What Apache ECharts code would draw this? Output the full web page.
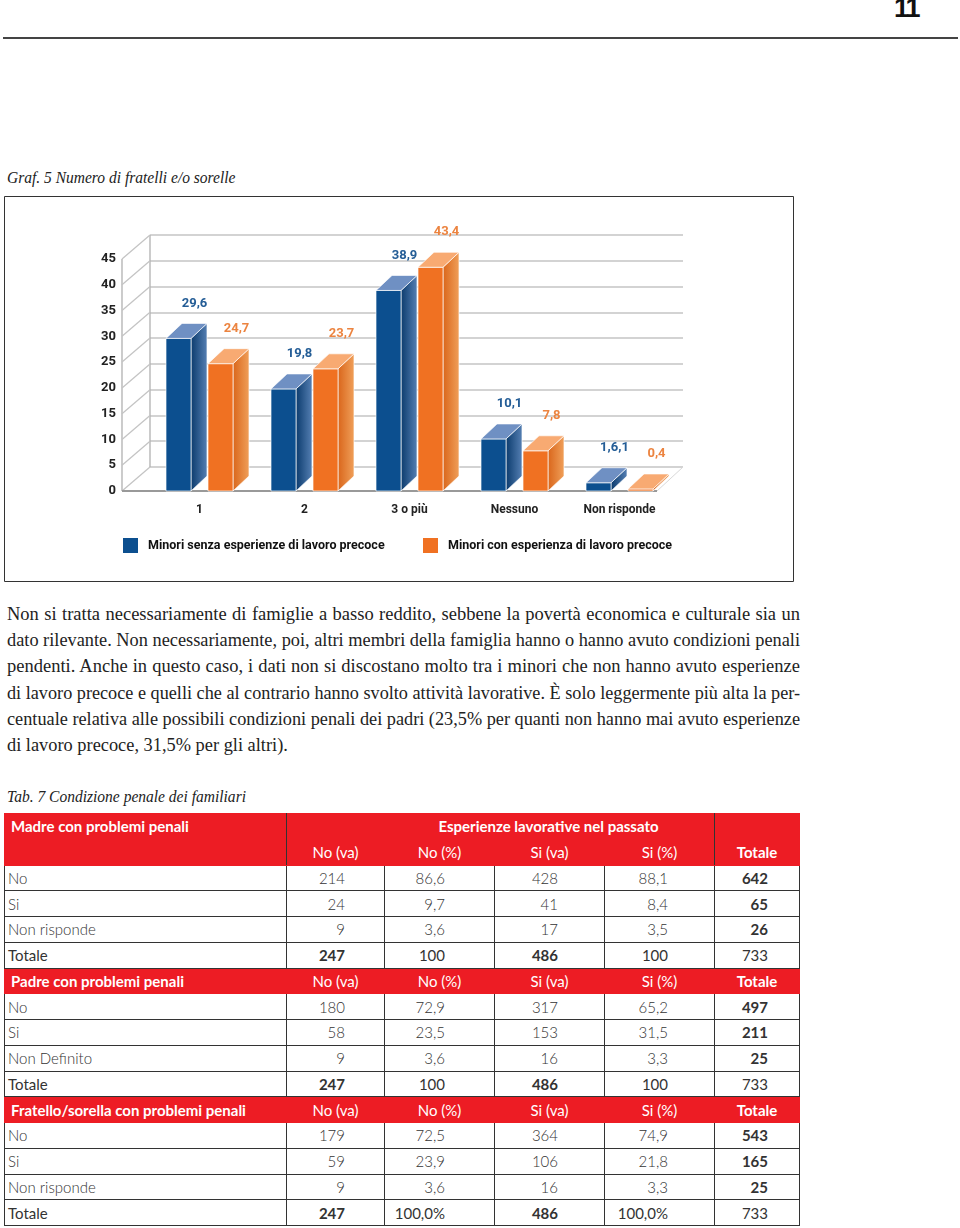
<!DOCTYPE html>
<html>
<head>
<meta charset="utf-8">
<script src="https://cdn.jsdelivr.net/npm/echarts@6/dist/echarts.min.js"></script>
<style>
  body { margin: 0; background: #fff; width: 960px; height: 1228px; position: relative; overflow: hidden; }
  .abs { position: absolute; }
  #pageNum { left: 894px; top: -7px; font: bold 27px 'Liberation Sans', sans-serif; color: #111; letter-spacing: -2px; }
  #topLine { left: 3px; top: 37px; width: 955px; height: 2px; background: #444; }
  .caption { left: 7px; font: italic 16.5px 'Liberation Serif', serif; color: #222; white-space: nowrap; line-height: 20px;
             transform-origin: 0 50%; transform: scaleX(0.94); }
  #chartBox { left: 4px; top: 196px; width: 791px; height: 387px; }
  #para { left: 7px; top: 601px; width: 793px; font: 18.5px 'Liberation Serif', serif; color: #222; line-height: 26.2px; }
  #para span { display: inline-block; white-space: nowrap; transform-origin: 0 50%; }
  #tab { left: 4px; top: 813px; width: 795px; border-collapse: collapse; table-layout: fixed;
         font-family: Lato, 'Open Sans', sans-serif; font-size: 15px; color: #333; }
  #tab td { height: 24.75px; padding: 0; border: 1px solid #333; white-space: nowrap; font-weight: 300; }
  #tab tr.red td { background: #ed1c24; color: #fff; border-color: #ed1c24; font-weight: 400; text-align: center; }
  #tab tr.red td.first { text-align: left; padding-left: 6px; font-weight: 700; }
  #tab tr.red td.tot { font-weight: 700; }
  #tab td.lab { padding-left: 3px; }
  #tab td.num { text-align: right; }
  #tab td.b { font-weight: 700; }
  #tab td.r { font-weight: 400; }
  .vline { width: 1px; background: #333; top: 813px; height: 52px; }
</style>
</head>
<body>
<div id="pageNum" class="abs">11</div>
<div id="topLine" class="abs"></div>
<div class="abs caption" style="top:168px">Graf. 5 Numero di fratelli e/o sorelle</div>
<div id="chartBox" class="abs"></div>
<div id="para" class="abs"></div>
<div class="abs caption" style="top:787px">Tab. 7 Condizione penale dei familiari</div>
<table id="tab" class="abs">
  <colgroup>
    <col style="width:282px"><col style="width:98px"><col style="width:110px">
    <col style="width:110px"><col style="width:110px"><col style="width:85px">
  </colgroup>
  <tbody id="tbody"></tbody>
</table>
<div class="abs vline" style="left:286px"></div>
<div class="abs vline" style="left:714px"></div>
<script>
  // dati del grafico
  var categories = ['1', '2', '3 o più', 'Nessuno', 'Non risponde']
  var seriesNames = ['Minori senza esperienze di lavoro precoce', 'Minori con esperienza di lavoro precoce']
  var blueValues = [29.6, 19.8, 38.9, 10.1, 1.6]
  var orangeValues = [24.7, 23.7, 43.4, 7.8, 0.4]
  var blueLabels = ['29,6', '19,8', '38,9', '10,1', '1,6,1']
  var orangeLabels = ['24,7', '23,7', '43,4', '7,8', '0,4']
  var yTicks = [0, 5, 10, 15, 20, 25, 30, 35, 40, 45]

  // testo
  var paraLines = [
    'Non si tratta necessariamente di famiglie a basso reddito, sebbene la povertà economica e culturale sia un',
    'dato rilevante. Non necessariamente, poi, altri membri della famiglia hanno o hanno avuto condizioni penali',
    'pendenti. Anche in questo caso, i dati non si discostano molto tra i minori che non hanno avuto esperienze',
    'di lavoro precoce e quelli che al contrario hanno svolto attività lavorative. È solo leggermente più alta la per-',
    'centuale relativa alle possibili condizioni penali dei padri (23,5% per quanti non hanno mai avuto esperienze',
    'di lavoro precoce, 31,5% per gli altri).'
  ]

  // tabella
  var colHeads = ['No (va)', 'No (%)', 'Si (va)', 'Si (%)', 'Totale']
  var madreRows = [
    ['No', '214', '86,6', '428', '88,1', '642'],
    ['Si', '24', '9,7', '41', '8,4', '65'],
    ['Non risponde', '9', '3,6', '17', '3,5', '26'],
    ['Totale', '247', '100', '486', '100', '733']
  ]
  var padreRows = [
    ['No', '180', '72,9', '317', '65,2', '497'],
    ['Si', '58', '23,5', '153', '31,5', '211'],
    ['Non Definito', '9', '3,6', '16', '3,3', '25'],
    ['Totale', '247', '100', '486', '100', '733']
  ]
  var fratelloRows = [
    ['No', '179', '72,5', '364', '74,9', '543'],
    ['Si', '59', '23,9', '106', '21,8', '165'],
    ['Non risponde', '9', '3,6', '16', '3,3', '25'],
    ['Totale', '247', '100,0%', '486', '100,0%', '733']
  ]

  var F = "Roboto,'Liberation Sans',sans-serif"

  // --- paragrafo giustificato riga per riga
  var para = document.getElementById('para')
  var target = 793
  paraLines.forEach(function (txt) {
    var s = document.createElement('span')
    s.textContent = txt
    para.appendChild(s)
    para.appendChild(document.createElement('br'))
  })
  var spans = para.querySelectorAll('span')
  var scales = []
  spans.forEach(function (s, i) {
    if (i === spans.length - 1) return
    var w = s.getBoundingClientRect().width
    if (w > target) {
      s.style.transform = 'scaleX(' + (target / w) + ')'
      scales.push(target / w)
    } else {
      var n = s.textContent.split(' ').length - 1
      s.style.wordSpacing = ((target - w) / n) + 'px'
      scales.push(1)
    }
  })
  var avg = scales.reduce(function (a, b) { return a + b }, 0) / scales.length
  spans[spans.length - 1].style.transform = 'scaleX(' + avg + ')'

  // --- tabella
  var tbody = document.getElementById('tbody')
  function addHead(title, first) {
    var tr = document.createElement('tr')
    tr.className = 'red'
    if (first) {
      tr.innerHTML = '<td class="first" rowspan="2" style="vertical-align:top;padding-top:3px">' + title + '</td>' +
        '<td colspan="4" style="padding-left:96px;font-weight:700">Esperienze lavorative nel passato</td>' +
        '<td></td>'
      tbody.appendChild(tr)
      tr = document.createElement('tr')
      tr.className = 'red'
      var h = ''
      colHeads.forEach(function (c, i) {
        h += '<td class="' + (i === 4 ? 'tot' : '') + '">' + c + '</td>'
      })
      tr.innerHTML = h
    } else {
      var h2 = '<td class="first">' + title + '</td>'
      colHeads.forEach(function (c, i) { h2 += '<td class="' + (i === 4 ? 'tot' : '') + '">' + c + '</td>' })
      tr.innerHTML = h2
    }
    tbody.appendChild(tr)
  }
  var pads = [0, 39, 49, 46, 46, 31]
  function addRows(rows) {
    rows.forEach(function (r) {
      var tr = document.createElement('tr')
      var tot = r[0] === 'Totale'
      var h = ''
      r.forEach(function (c, i) {
        var cls
        if (i === 0) cls = 'lab' + (tot ? ' r' : '')
        else {
          cls = 'num'
          if (tot) cls += (i === 1 || i === 3) ? ' b' : ' r'
          else if (i === 5) cls += ' b'
        }
        h += '<td class="' + cls + '"' + (i > 0 ? ' style="padding-right:' + pads[i] + 'px"' : '') + '>' + c + '</td>'
      })
      tr.innerHTML = h
      tbody.appendChild(tr)
    })
  }
  addHead('Madre con problemi penali', true)
  addRows(madreRows)
  addHead('Padre con problemi penali', false)
  addRows(padreRows)
  addHead('Fratello/sorella con problemi penali', false)
  addRows(fratelloRows)

  // --- grafico
  var chart = echarts.init(document.getElementById('chartBox'), null, { renderer: 'canvas' })

  function wallRender(params, api) {
    var cs = params.coordSys
    var v = api.value(1)
    var y = api.coord([0, v])[1]
    var xf = cs.x - 25, dx = 28, dy = 24
    var kids = [{ type: 'line', shape: { x1: xf, y1: y, x2: xf + dx, y2: y - dy }, style: { stroke: '#c4c4c4', lineWidth: 1.3 } }]
    if (v === 0) {
      var yTop = api.coord([0, yTicks[yTicks.length - 1]])[1]
      var xr = cs.x + cs.width - 15
      kids.push({ type: 'line', shape: { x1: xf, y1: y, x2: xf, y2: yTop }, style: { stroke: '#b0b0b0', lineWidth: 1.3 } })
      kids.push({ type: 'line', shape: { x1: xf + dx, y1: y - dy, x2: xf + dx, y2: yTop - dy }, style: { stroke: '#b0b0b0', lineWidth: 1.3 } })
      kids.push({ type: 'line', shape: { x1: xr, y1: y, x2: xr + 26, y2: y - dy }, style: { stroke: '#d8d8d8', lineWidth: 1 } })
      kids.push({ type: 'line', shape: { x1: xf, y1: y, x2: xr, y2: y }, style: { stroke: '#999', lineWidth: 2 } })
    }
    return { type: 'group', children: kids }
  }

  function barRender(offset, front, sideFrom, sideTo, topColor, labelColor, labels) {
    return function (params, api) {
      var idx = api.value(0)
      var v = api.value(1)
      var base = api.coord([idx, 0])
      var top = api.coord([idx, v])
      var w = 25, dx = 16, dy = 15
      var x0 = base[0] + offset - w / 2
      var y0 = base[1], y1 = top[1]
      var edge = 'rgba(255,255,255,0.85)'
      return {
        type: 'group',
        children: [
          { type: 'polygon', shape: { points: [[x0 + w, y1], [x0 + w + dx, y1 - dy], [x0 + w + dx, y0 - dy], [x0 + w, y0]] },
            style: { fill: new echarts.graphic.LinearGradient(0, 0, 1, 0, [{ offset: 0, color: sideFrom }, { offset: 1, color: sideTo }]), stroke: edge, lineWidth: 0.8 } },
          { type: 'rect', shape: { x: x0, y: y1, width: w, height: y0 - y1 }, style: { fill: front, stroke: edge, lineWidth: 0.8 } },
          { type: 'polygon', shape: { points: [[x0, y1], [x0 + w, y1], [x0 + w + dx, y1 - dy], [x0 + dx, y1 - dy]] },
            style: { fill: topColor, stroke: edge, lineWidth: 0.8 } },
          { type: 'text', x: x0 + w / 2 + dx, y: y1 - 35,
            style: { text: labels[params.dataIndex], fill: labelColor, font: 'bold 13px ' + F, align: 'center', verticalAlign: 'middle' } }
        ]
      }
    }
  }

  var legendBase = {
    padding: 0, itemWidth: 15, itemHeight: 15, icon: 'rect', top: 342,
    textStyle: { fontFamily: F, fontWeight: 'bold', fontSize: 12.5, color: '#111', padding: [0, 0, 0, 5] }
  }

  chart.setOption({
    animation: false,
    textStyle: { fontFamily: F },
    graphic: [{ type: 'rect', shape: { x: 0.5, y: 0.5, width: 789, height: 385 }, style: { fill: null, stroke: '#333', lineWidth: 1 } }],
    legend: [
      Object.assign({}, legendBase, { data: [seriesNames[0]], left: 119 }),
      Object.assign({}, legendBase, { data: [seriesNames[1]], left: 419 })
    ],
    grid: [
      { left: 143, top: 63, width: 525, height: 232 },
      { left: 146, top: 39, width: 533, height: 232 }
    ],
    xAxis: [
      { gridIndex: 0, type: 'category', data: categories, axisLine: { show: false }, axisTick: { show: false },
        axisLabel: { interval: 0, margin: 13, color: '#222', fontWeight: 'bold', fontSize: 12, fontFamily: F } },
      { gridIndex: 1, type: 'value', min: 0, max: 1, show: false }
    ],
    yAxis: [
      { gridIndex: 0, type: 'value', min: 0, max: 45, interval: 5, axisLine: { show: false }, axisTick: { show: false },
        splitLine: { show: false }, axisLabel: { margin: 31, color: '#222', fontWeight: 'bold', fontSize: 13, fontFamily: F } },
      { gridIndex: 1, type: 'value', min: 0, max: 45, interval: 5, axisLine: { show: false }, axisTick: { show: false },
        axisLabel: { show: false }, splitLine: { lineStyle: { color: '#c4c4c4', width: 1.5 } } }
    ],
    series: [
      { type: 'custom', name: 'wall', silent: true, xAxisIndex: 0, yAxisIndex: 0, z: 1,
        data: yTicks.map(function (v) { return [categories[0], v] }), renderItem: wallRender },
      { type: 'custom', name: seriesNames[0], xAxisIndex: 0, yAxisIndex: 0, z: 3, itemStyle: { color: '#0c4f8f' },
        data: categories.map(function (c, i) { return [c, blueValues[i]] }),
        renderItem: barRender(-21, '#0c4f8f', '#0a3a6c', '#5680b4', '#6f90c3', '#245d96', blueLabels) },
      { type: 'custom', name: seriesNames[1], xAxisIndex: 0, yAxisIndex: 0, z: 3, itemStyle: { color: '#f07122' },
        data: categories.map(function (c, i) { return [c, orangeValues[i]] }),
        renderItem: barRender(21, '#f07122', '#d9651a', '#f0a05a', '#f8aa72', '#ec8440', orangeLabels) }
    ]
  })
</script>
</body>
</html>
